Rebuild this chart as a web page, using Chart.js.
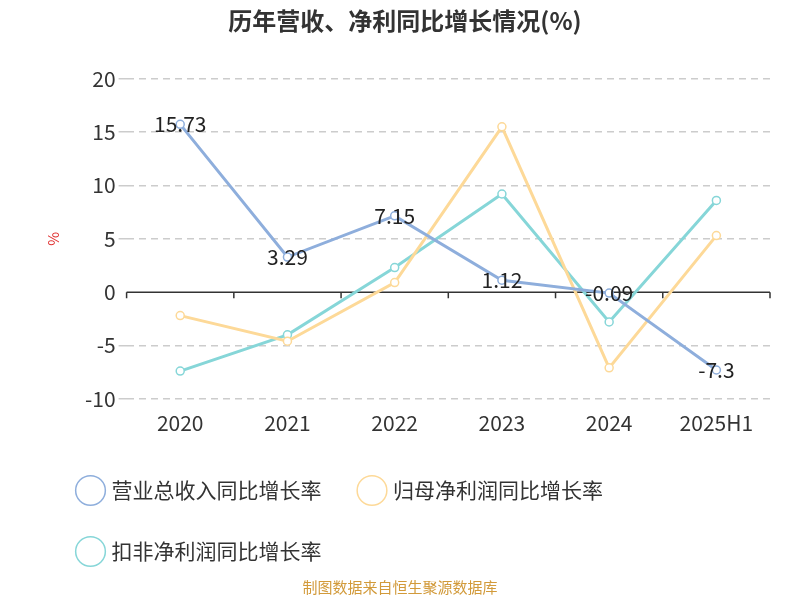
<!DOCTYPE html>
<html><head><meta charset="utf-8">
<script src="https://cdn.jsdelivr.net/npm/chart.js@4"></script>
<style>body{margin:0;background:#fff}#w{width:800px;height:600px;position:relative}
#f{position:absolute;left:0;width:800px;top:576px;text-align:center;font:15px 'Noto Sans CJK SC';color:#d29a3a}</style>
</head><body><div id="w"><canvas id="c" width="800" height="600"></canvas><div id="f">制图数据来自恒生聚源数据库</div></div>
<script>
const categories=['2020','2021','2022','2023','2024','2025H1'];
const revenue=[15.73,3.29,7.15,1.12,-0.09,-7.3];
const netProfit=[-2.2,-4.6,0.9,15.5,-7.1,5.3];
const deducted=[-7.4,-4.0,2.3,9.2,-2.8,8.6];
const yTicks=[-10,-5,0,5,10,15,20];
const F="'Noto Sans CJK SC','Noto Sans'";
const labelPlugin={id:'lbl',afterDatasetsDraw(ch){const ctx=ch.ctx;const m=ch.getDatasetMeta(0);
ctx.save();ctx.font='21px '+F;ctx.fillStyle='#222';ctx.textAlign='center';ctx.textBaseline='middle';
m.data.forEach((p,i)=>ctx.fillText(String(revenue[i]),p.x,p.y));ctx.restore();}};
const zeroPlugin={id:'zero',beforeDatasetsDraw(ch){const ctx=ch.ctx,a=ch.chartArea,y=ch.scales.y.getPixelForValue(0),x=ch.scales.x;
ctx.save();ctx.strokeStyle='#333';ctx.lineWidth=1.5;ctx.beginPath();ctx.moveTo(a.left,y);ctx.lineTo(a.right,y);
const n=categories.length,w=(a.right-a.left)/n;for(let i=0;i<=n;i++){const xx=a.left+i*w;ctx.moveTo(xx,y);ctx.lineTo(xx,y+6);}
ctx.stroke();ctx.restore();}};
function ds(label,data,c){return{label,data,borderColor:c,backgroundColor:'#fff',borderWidth:3,pointRadius:4,pointBorderWidth:1.5,pointBorderColor:c,tension:0,pointStyle:'circle'};}
new Chart(document.getElementById('c'),{type:'line',
data:{labels:categories,datasets:[ds('营业总收入同比增长率',revenue,'#8eaedc'),ds('归母净利润同比增长率',netProfit,'#fdd998'),ds('扣非净利润同比增长率',deducted,'#86d6d8')]},
options:{responsive:false,animation:false,layout:{padding:{left:40,right:30,top:0,bottom:28}},
plugins:{title:{display:true,text:'历年营收、净利同比增长情况(%)',font:{family:F,size:24,weight:'bold'},color:'#333',padding:{top:6,bottom:44}},
legend:{position:'bottom',align:'start',labels:{usePointStyle:true,pointStyle:'circle',boxWidth:22,boxHeight:22,padding:40,font:{family:F,size:21},color:'#333'}},tooltip:{enabled:false}},
scales:{x:{offset:true,grid:{display:false},border:{display:false},ticks:{font:{family:F,size:21},color:'#333',padding:4}},
y:{min:-10,max:20,afterBuildTicks:a=>{a.ticks=yTicks.map(v=>({value:v}));},
title:{display:true,text:'%',color:'#e03030',font:{family:F,size:15},padding:{bottom:20}},
grid:{color:c=>c.tick.value===0?'rgba(0,0,0,0)':'#ccc',lineWidth:1.5,drawTicks:true,tickLength:8},
border:{display:false,dash:[7,5]},ticks:{font:{family:F,size:21},color:'#333'}}}},
plugins:[labelPlugin,zeroPlugin]});
</script></body></html>
